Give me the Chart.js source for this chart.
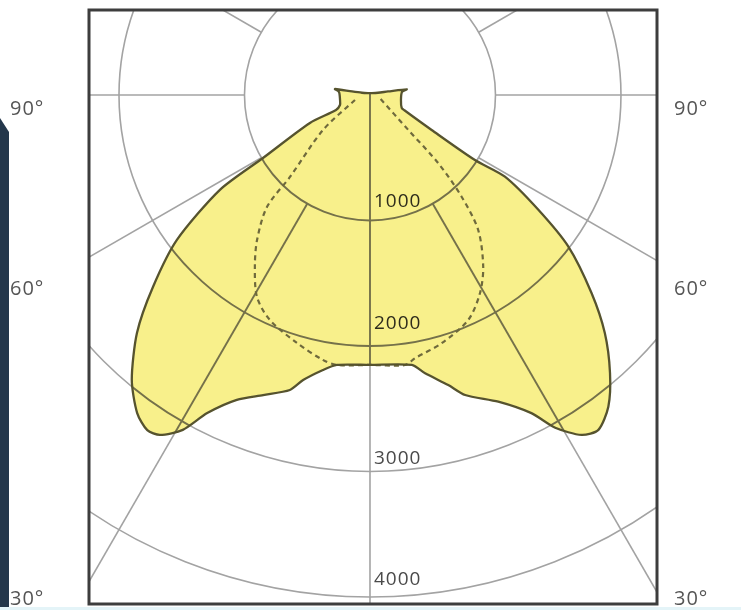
<!DOCTYPE html>
<html>
<head>
<meta charset="utf-8">
<script src="https://cdn.jsdelivr.net/npm/chart.js@4.4.1/dist/chart.umd.min.js"></script>
<style>
  html, body { margin: 0; padding: 0; background: #ffffff; }
  #wrap { position: relative; width: 741px; height: 610px; overflow: hidden; background: #fff; }
  #c { position: absolute; left: 0; top: 0; }
  #bar { position: absolute; left: 0; top: 118px; width: 9px; height: 489px; background: #24374b;
         clip-path: polygon(0 0, 100% 14px, 100% 100%, 0 100%); }
  #btm { position: absolute; left: 0; top: 607px; width: 741px; height: 3px; background: #e4f4f8; }
</style>
</head>
<body>
<div id="wrap">
  <canvas id="c" width="741" height="610"></canvas>
  <div id="bar"></div>
  <div id="btm"></div>
</div>
<script>
// ---------------- data (angles in degrees from nadir, negative = left half; intensity in cd) -------------
const outlineAngle = [-180, -132, -105.4, -101, -99.7, -95.5, -80.5, -71.6, -66.2, -65.0, -59.5, -57.7, -53.1, -48.5, -44.4,
  -39.9, -36.2, -33.6, -31.7, -29.2, -27.1, -23.6, -19.6, -15.2, -13.2, -9.7, -7.0, 0,
  8.8, 11.2, 15.1, 17.6, 22.7, 26.9, 29.1, 31.9, 34.3, 37.4, 40.8, 44.6, 48.2, 52.6, 55.7, 58.8, 58.2,
  60.4, 66.0, 67.7, 80.8, 95.4, 98.8, 101, 105.4, 132, 180];
const outlineCd = [14, 21, 66, 146, 283, 248, 242, 252, 296, 528, 990, 1415, 1924, 2309, 2654,
  2959, 3141, 3207, 3184, 3057, 2847, 2651, 2538, 2436, 2333, 2223, 2167, 2151,
  2177, 2261, 2394, 2508, 2649, 2843, 3035, 3191, 3230, 3127, 2927, 2665, 2368, 1990, 1624, 1257, 984,
  565, 300, 273, 250, 256, 296, 146, 66, 21, 14];

const dashedAngle = [-71.6, -53.3, -44.3, -42.6, -37.9, -33.8, -29.2, -24.0, -16.4, -10.1, -7.0, 0,
  7.4, 9.7, 16.1, 23.6, 29.0, 33.4, 38.7, 42.0, 45.0, 47.6, 71.7];
const dashedCd = [126, 467, 913, 1213, 1465, 1649, 1845, 1962, 2060, 2144, 2167, 2151,
  2170, 2128, 2059, 1956, 1807, 1639, 1379, 1091, 770, 413, 84];

const ringValues = [1000, 2000, 3000, 4000];
const ringLabels = ['1000', '2000', '3000', '4000'];
const radialAngles = [-120, -90, -60, -30, 30, 60, 90, 120];
const angleLabels = ['90°', '60°', '30°'];

// ---------------- layout constants ----------------
const X_MIN = -2239, X_MAX = 2287, Y_MIN = -4056, Y_MAX = 677;
const RING_LABEL_OFFSET = [-19, -22, -13, -17];
const ANGLE_LABEL_Y = [109, 289, 599];
const ANGLE_LABEL_X_LEFT = 10, ANGLE_LABEL_X_RIGHT = 674;

const rad = d => d * Math.PI / 180;
const toXY = (a, v) => ({ x: v * Math.sin(rad(a)), y: -v * Math.cos(rad(a)) });

const outlinePts = outlineAngle.map((a, i) => toXY(a, outlineCd[i]));
const dashedPts = dashedAngle.map((a, i) => toXY(a, dashedCd[i]));

function drawGrid(chart, color, width) {
  const { ctx, scales: { x, y } } = chart;
  const cx = x.getPixelForValue(0), cy = y.getPixelForValue(0);
  ctx.strokeStyle = color;
  ctx.lineWidth = width;
  ctx.setLineDash([]);
  ringValues.forEach(v => {
    const rx = x.getPixelForValue(v) - cx;
    const ry = y.getPixelForValue(-v) - cy;
    ctx.beginPath();
    ctx.ellipse(cx, cy, rx, ry, 0, 0, Math.PI * 2);
    ctx.stroke();
  });
  radialAngles.forEach(a => {
    const p0 = toXY(a, ringValues[0]);
    const p1 = toXY(a, 8000);
    ctx.beginPath();
    ctx.moveTo(x.getPixelForValue(p0.x), y.getPixelForValue(p0.y));
    ctx.lineTo(x.getPixelForValue(p1.x), y.getPixelForValue(p1.y));
    ctx.stroke();
  });
  // nadir line from the top of the luminaire outline downward
  const topCd = outlineCd[outlineAngle.indexOf(180)];
  ctx.beginPath();
  ctx.moveTo(cx, y.getPixelForValue(topCd));
  ctx.lineTo(cx, y.getPixelForValue(-8000));
  ctx.stroke();
}

function shapePath(chart) {
  const { ctx } = chart;
  const meta = chart.getDatasetMeta(0);
  ctx.beginPath();
  if (meta.dataset && typeof meta.dataset.path === 'function') {
    meta.dataset.path(ctx);
  } else {
    meta.data.forEach((p, i) => i ? ctx.lineTo(p.x, p.y) : ctx.moveTo(p.x, p.y));
  }
  ctx.closePath();
}

const polarPlugin = {
  id: 'polarGrid',
  beforeDatasetsDraw(chart) {
    const { ctx, chartArea: a } = chart;
    ctx.save();
    ctx.beginPath();
    ctx.rect(a.left, a.top, a.right - a.left, a.bottom - a.top);
    ctx.clip();
    drawGrid(chart, '#a3a3a3', 1.6);
    // filled light distribution
    shapePath(chart);
    ctx.fillStyle = '#f8f08b';
    ctx.fill();
    ctx.clip();
    drawGrid(chart, '#75714a', 1.9);
    ctx.restore();
  },
  afterDatasetsDraw(chart) {
    const { ctx, chartArea: a, scales: { x, y } } = chart;
    const cx = x.getPixelForValue(0);
    ctx.save();
    ctx.font = '19px "Open Sans"';
    ctx.letterSpacing = '1px';
    ctx.textAlign = 'left';
    ctx.textBaseline = 'middle';
    ringValues.forEach((v, i) => {
      const py = y.getPixelForValue(-v);
      ctx.fillStyle = i < 2 ? '#2e2c1c' : '#4a4a4a';
      ctx.fillText(ringLabels[i], cx + 4, py + RING_LABEL_OFFSET[i]);
    });
    // frame
    ctx.strokeStyle = '#3d3d3d';
    ctx.lineWidth = 3;
    ctx.strokeRect(a.left, a.top, a.right - a.left, a.bottom - a.top);
    // angle labels
    ctx.fillStyle = '#555555';
    ctx.font = '20px "Open Sans"';
    ctx.letterSpacing = '1px';
    angleLabels.forEach((t, i) => {
      ctx.fillText(t, ANGLE_LABEL_X_LEFT, ANGLE_LABEL_Y[i]);
      ctx.fillText(t, ANGLE_LABEL_X_RIGHT, ANGLE_LABEL_Y[i]);
    });
    ctx.restore();
  }
};

new Chart(document.getElementById('c'), {
  type: 'scatter',
  data: {
    datasets: [
      { data: outlinePts, showLine: true, borderColor: '#56532e', borderWidth: 2.3, pointRadius: 0,
        fill: false, tension: 0.25 },
      { data: dashedPts, showLine: true, borderColor: '#6f6a3c', borderWidth: 2.2, borderDash: [5, 4],
        pointRadius: 0, fill: false, tension: 0.3 }
    ]
  },
  options: {
    responsive: false,
    animation: false,
    devicePixelRatio: 1,
    layout: { padding: { left: 89, top: 10, right: 84, bottom: 6 } },
    scales: {
      x: { type: 'linear', min: X_MIN, max: X_MAX, display: false },
      y: { type: 'linear', min: Y_MIN, max: Y_MAX, display: false }
    },
    plugins: { legend: { display: false }, tooltip: { enabled: false } },
    elements: { point: { radius: 0 } }
  },
  plugins: [polarPlugin]
});
</script>
</body>
</html>
